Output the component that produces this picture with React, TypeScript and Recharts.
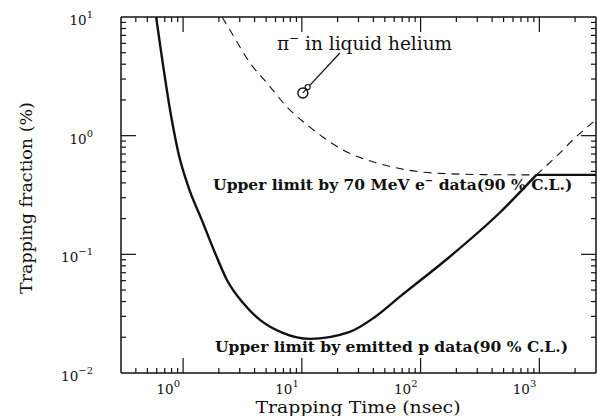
import React from 'react';
import {
  ComposedChart,
  Line,
  Scatter,
  XAxis,
  YAxis,
  ReferenceLine,
  ReferenceDot,
} from 'recharts';

// emitted p limit (nsec, %)
const pTime = [0.593, 0.803, 0.913, 1.108, 1.436, 1.857, 2.34, 3.19, 4.44, 6.9, 11.7, 25.3, 41, 66.6, 175, 461, 944, 1500, 2000, 3000];
const pFrac = [10, 1.36, 0.715, 0.37, 0.195, 0.1028, 0.0608, 0.039, 0.028, 0.0218, 0.0194, 0.0222, 0.0295, 0.0438, 0.095, 0.223, 0.467, 0.72, 0.96, 1.36];

// 70 MeV e- limit
const eTime = [2.13, 2.63, 3.66, 5.08, 7.48, 11.7, 15.0, 23.9, 42.7, 126, 332, 944, 3000];
const eFrac = [10, 7.05, 4.1, 2.78, 1.75, 1.18, 0.975, 0.73, 0.59, 0.485, 0.47, 0.467, 0.467];

// where the two limits cross
const crossTime = 944;

// pi- in liquid helium
const pionTime = [10.2];
const pionFrac = [2.29];

const xTicks = [
  0.4, 0.5, 0.6, 0.7, 0.8, 0.9,
  1, 2, 3, 4, 5, 6, 7, 8, 9,
  10, 20, 30, 40, 50, 60, 70, 80, 90,
  100, 200, 300, 400, 500, 600, 700, 800, 900,
  1000, 2000,
];
const yTicks = [
  0.02, 0.03, 0.04, 0.05, 0.06, 0.07, 0.08, 0.09,
  0.1, 0.2, 0.3, 0.4, 0.5, 0.6, 0.7, 0.8, 0.9,
  1, 2, 3, 4, 5, 6, 7, 8, 9,
];
const yLabelTicks = [0.01, 0.1, 1, 10];
const xLabelTicks = [1, 10, 100, 1000];

const X_MIN = 0.3, X_MAX = 3000, Y_MIN = 0.01, Y_MAX = 10;

const pts = (xs: number[], ys: number[]) => xs.map((x, i) => ({ x, y: ys[i] }));
const pData = pts(pTime, pFrac);
const eData = pts(eTime, eFrac);
const pSolid = pData.filter(d => d.x <= crossTime);
const pDashed = pData.filter(d => d.x >= crossTime);
const eSolid = eData.filter(d => d.x >= crossTime);
const eDashed = eData.filter(d => d.x <= crossTime);
const pionData = pts(pionTime, pionFrac);

const isMajor = (v: number) => Math.abs(Math.log10(v) - Math.round(Math.log10(v))) < 1e-6;

// tick positions along each frame side
const bottomTicks = xTicks.map(v => ({ x: v, y: Y_MIN, major: isMajor(v) }));
const topTicks = xTicks.map(v => ({ x: v, y: Y_MAX, major: isMajor(v) }));
const leftTicks = yTicks.map(v => ({ x: X_MIN, y: v, major: isMajor(v) }));
const rightTicks = yTicks.map(v => ({ x: X_MAX, y: v, major: isMajor(v) }));

const FONT = '"DejaVu Serif", "Liberation Serif", serif';
const INK = '#111';

const expText = (v: number) => {
  const e = Math.round(Math.log10(v));
  return e < 0 ? `\u2212${-e}` : `${e}`;
};

const PowLabel = ({ x, y, v }: { x: number; y: number; v: number }) => (
  <text x={x} y={y} textAnchor="end" fontFamily={FONT} fontSize={13.5} fill={INK}>
    10
    <tspan dy={-7} fontSize={10}>{expText(v)}</tspan>
  </text>
);

const XLabel = (props: any) => <PowLabel x={Number(props.x) - 3} y={Number(props.y) + 21} v={props.payload.value} />;
const YLabel = (props: any) => <PowLabel x={Number(props.x) - 28} y={Number(props.y) + 8} v={props.payload.value} />;

// inward tick mark drawn at a point on the frame
const TickMark = (props: any) => {
  const { cx, cy, payload, dir } = props;
  const len = payload && payload.major ? 15 : 5;
  const [dx, dy] = dir === 'up' ? [0, -len] : dir === 'down' ? [0, len] : dir === 'right' ? [len, 0] : [-len, 0];
  return <path d={`M${cx},${cy}L${cx + dx},${cy + dy}`} stroke={INK} strokeWidth={1.2} fill="none" />;
};

const textAt = (content: React.ReactNode, size: number, bold = false) => (props: any) => (
  <text x={props.cx} y={props.cy} fontFamily={FONT} fontSize={size} fontWeight={bold ? 'bold' : 'normal'} fill={INK}>
    {content}
  </text>
);

const PionMark = (props: any) => (
  <circle cx={props.cx} cy={props.cy} r={5} fill="none" stroke={INK} strokeWidth={1.4} />
);

export default function App() {
  const axisLine = { stroke: INK, strokeWidth: 1.5 };
  return (
    <div style={{ position: 'absolute', left: 0, top: 0, width: 597, height: 416, background: '#fff' }}>
      <ComposedChart width={597} height={416} margin={{ top: 16, right: 0, bottom: 13, left: 61 }}>
        <XAxis
          xAxisId="b"
          type="number"
          dataKey="x"
          scale="log"
          domain={[X_MIN, X_MAX]}
          allowDataOverflow
          ticks={xLabelTicks}
          interval={0}
          height={30}
          tickSize={0}
          tickMargin={0}
          tickLine={false}
          axisLine={axisLine}
          tick={XLabel}
        />
        <XAxis
          xAxisId="t"
          orientation="top"
          type="number"
          dataKey="x"
          scale="log"
          domain={[X_MIN, X_MAX]}
          allowDataOverflow
          height={1}
          tick={false}
          tickLine={false}
          axisLine={axisLine}
        />
        <YAxis
          yAxisId="l"
          type="number"
          dataKey="y"
          scale="log"
          domain={[Y_MIN, Y_MAX]}
          allowDataOverflow
          ticks={yLabelTicks}
          interval={0}
          width={60}
          tickSize={0}
          tickMargin={0}
          tickLine={false}
          axisLine={axisLine}
          tick={YLabel}
        />
        <YAxis
          yAxisId="r"
          orientation="right"
          type="number"
          dataKey="y"
          scale="log"
          domain={[Y_MIN, Y_MAX]}
          allowDataOverflow
          width={1}
          tick={false}
          tickLine={false}
          axisLine={axisLine}
        />

        {/* inward ticks on all four sides */}
        <Scatter xAxisId="b" yAxisId="l" data={bottomTicks} dataKey="y" shape={<TickMark dir="up" />} isAnimationActive={false} />
        <Scatter xAxisId="b" yAxisId="l" data={topTicks} dataKey="y" shape={<TickMark dir="down" />} isAnimationActive={false} />
        <Scatter xAxisId="b" yAxisId="l" data={leftTicks} dataKey="y" shape={<TickMark dir="right" />} isAnimationActive={false} />
        <Scatter xAxisId="b" yAxisId="l" data={rightTicks} dataKey="y" shape={<TickMark dir="left" />} isAnimationActive={false} />

        <Line xAxisId="b" yAxisId="l" data={eDashed} dataKey="y" type="monotone" stroke={INK}
          strokeWidth={1.1} strokeDasharray="8 6" dot={false} isAnimationActive={false} />
        <Line xAxisId="b" yAxisId="l" data={pDashed} dataKey="y" type="monotone" stroke={INK}
          strokeWidth={1.1} strokeDasharray="8 6" dot={false} isAnimationActive={false} />
        <Line xAxisId="b" yAxisId="l" data={pSolid} dataKey="y" type="monotone" stroke={INK}
          strokeWidth={2.4} dot={false} isAnimationActive={false} />
        <Line xAxisId="b" yAxisId="l" data={eSolid} dataKey="y" type="monotone" stroke={INK}
          strokeWidth={2.4} dot={false} isAnimationActive={false} />

        <ReferenceLine xAxisId="b" yAxisId="l" segment={[{ x: 10.2, y: 2.29 }, { x: 20.9, y: 4.97 }]}
          stroke={INK} strokeWidth={1.2} />
        <ReferenceDot xAxisId="b" yAxisId="l" x={11.2} y={2.57} r={2.5} fill="#fff" stroke={INK} strokeWidth={1.2} />
        <Scatter xAxisId="b" yAxisId="l" data={pionData} dataKey="y" shape={<PionMark />} isAnimationActive={false} />

        <ReferenceDot xAxisId="b" yAxisId="l" x={6.17} y={5.27}
          shape={textAt(<>π<tspan dy={-8} fontSize={12}>−</tspan><tspan dy={8}> in liquid helium</tspan></>, 18.5)} />
        <ReferenceDot xAxisId="b" yAxisId="l" x={1.79} y={0.349}
          shape={textAt(<>Upper limit by 70 MeV e<tspan dy={-6} fontSize={10}>−</tspan><tspan dy={6}> data(90 % C.L.)</tspan></>, 15.5, true)} />
        <ReferenceDot xAxisId="b" yAxisId="l" x={1.86} y={0.01507}
          shape={textAt('Upper limit by emitted p data(90 % C.L.)', 15.5, true)} />
      </ComposedChart>

      <svg width={597} height={416} style={{ position: 'absolute', left: 0, top: 0, pointerEvents: 'none' }}>
        <text x={358} y={413} textAnchor="middle" fontFamily={FONT} fontSize={16} textLength={205}
          lengthAdjust="spacingAndGlyphs" fill={INK}>
          Trapping Time (nsec)
        </text>
        <text x={32} y={198} textAnchor="middle" transform="rotate(-90 32 198)" fontFamily={FONT} fontSize={17.5} fill={INK}>
          Trapping fraction (%)
        </text>
      </svg>
    </div>
  );
}
